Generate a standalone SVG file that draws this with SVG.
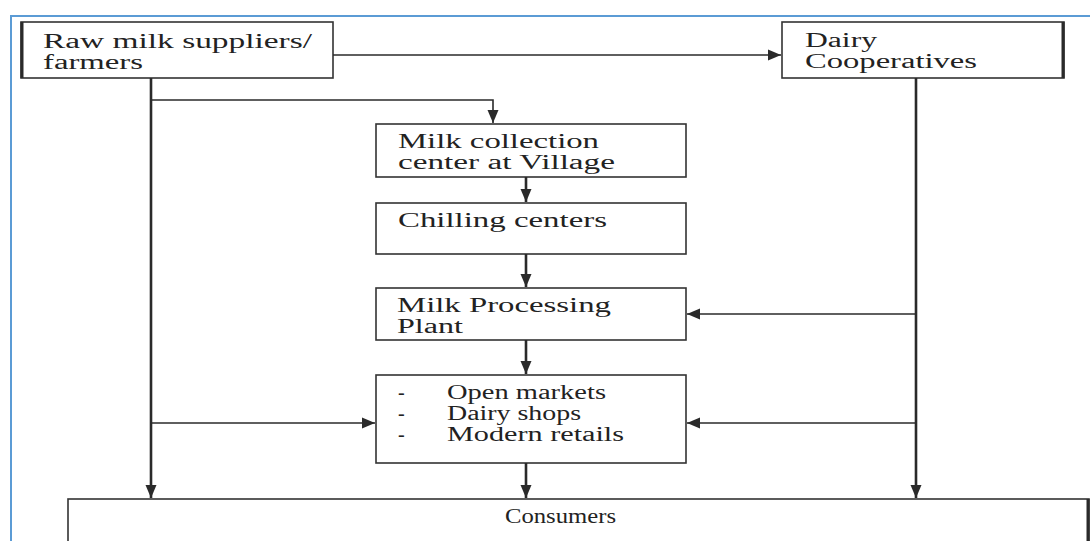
<svg xmlns="http://www.w3.org/2000/svg" width="1090" height="541" viewBox="0 0 1090 541">
<style>
.box{fill:#fff;stroke:#333;stroke-width:1.6}
.edge{stroke:#2a2a2a;stroke-width:3;fill:none}
.t{font-family:"Liberation Serif","Times New Roman",serif;font-size:20px;fill:#222}
.ln{stroke:#2a2a2a;fill:none;stroke-width:1.6}
.lnv{stroke:#2a2a2a;fill:none;stroke-width:2.6}
.frame{stroke:#5b9bd5;stroke-width:2;fill:none}
</style>
<defs>
<marker id="ah" markerUnits="userSpaceOnUse" markerWidth="14" markerHeight="12" refX="13" refY="6" orient="auto">
<path d="M0,0.5 L13,6 L0,11.5 Z" fill="#2a2a2a"/>
</marker>
</defs>
<rect width="1090" height="541" fill="#fff"/>
<path class="frame" d="M11,541 V16 H1090"/>

<g id="raw">
<rect class="box" x="21" y="22" width="312" height="56"/>
<line class="edge" x1="22" y1="22" x2="22" y2="78"/>
<text class="t" x="43" y="48" textLength="269" lengthAdjust="spacingAndGlyphs">Raw milk suppliers/</text>
<text class="t" x="43" y="69" textLength="100" lengthAdjust="spacingAndGlyphs">farmers</text>
</g>

<g id="dairy">
<rect class="box" x="782" y="22" width="282" height="56"/>
<line class="edge" x1="1063" y1="22" x2="1063" y2="78"/>
<text class="t" x="805" y="47" textLength="72" lengthAdjust="spacingAndGlyphs">Dairy</text>
<text class="t" x="805" y="68" textLength="172" lengthAdjust="spacingAndGlyphs">Cooperatives</text>
</g>

<g id="collection">
<rect class="box" x="376" y="124" width="310" height="53"/>
<text class="t" x="398" y="148" textLength="201" lengthAdjust="spacingAndGlyphs">Milk collection</text>
<text class="t" x="398" y="169" textLength="217" lengthAdjust="spacingAndGlyphs">center at Village</text>
</g>

<g id="chilling">
<rect class="box" x="376" y="203" width="310" height="51"/>
<text class="t" x="398" y="227" textLength="209" lengthAdjust="spacingAndGlyphs">Chilling centers</text>
</g>

<g id="processing">
<rect class="box" x="376" y="288" width="310" height="52"/>
<text class="t" x="397" y="312" textLength="214" lengthAdjust="spacingAndGlyphs">Milk Processing</text>
<text class="t" x="397" y="333" textLength="66" lengthAdjust="spacingAndGlyphs">Plant</text>
</g>

<g id="retail">
<rect class="box" x="376" y="375" width="310" height="88"/>
<text class="t" x="398" y="399">-</text>
<text class="t" x="398" y="420">-</text>
<text class="t" x="398" y="441">-</text>
<text class="t" x="447" y="399" textLength="159" lengthAdjust="spacingAndGlyphs">Open markets</text>
<text class="t" x="447" y="420" textLength="134" lengthAdjust="spacingAndGlyphs">Dairy shops</text>
<text class="t" x="447" y="441" textLength="177" lengthAdjust="spacingAndGlyphs">Modern retails</text>
</g>

<g id="consumers">
<rect class="box" x="68" y="499" width="1021" height="60"/>
<line class="edge" x1="1088" y1="499" x2="1088" y2="541"/>
<text class="t" x="505" y="523" textLength="111" lengthAdjust="spacingAndGlyphs">Consumers</text>
</g>

<g id="connectors">
<line class="ln" x1="333" y1="55" x2="781" y2="55" marker-end="url(#ah)"/>
<line class="lnv" x1="151" y1="78" x2="151" y2="498" marker-end="url(#ah)"/>
<polyline class="ln" points="151,100 493,100 493,123" marker-end="url(#ah)"/>
<line class="ln" x1="151" y1="423" x2="375" y2="423" marker-end="url(#ah)"/>
<line class="lnv" x1="526" y1="177" x2="526" y2="202" marker-end="url(#ah)"/>
<line class="lnv" x1="526" y1="254" x2="526" y2="287" marker-end="url(#ah)"/>
<line class="lnv" x1="526" y1="340" x2="526" y2="374" marker-end="url(#ah)"/>
<line class="lnv" x1="526" y1="463" x2="526" y2="498" marker-end="url(#ah)"/>
<line class="lnv" x1="916" y1="78" x2="916" y2="498" marker-end="url(#ah)"/>
<line class="ln" x1="916" y1="314" x2="687" y2="314" marker-end="url(#ah)"/>
<line class="ln" x1="916" y1="423" x2="687" y2="423" marker-end="url(#ah)"/>
</g>
</svg>
